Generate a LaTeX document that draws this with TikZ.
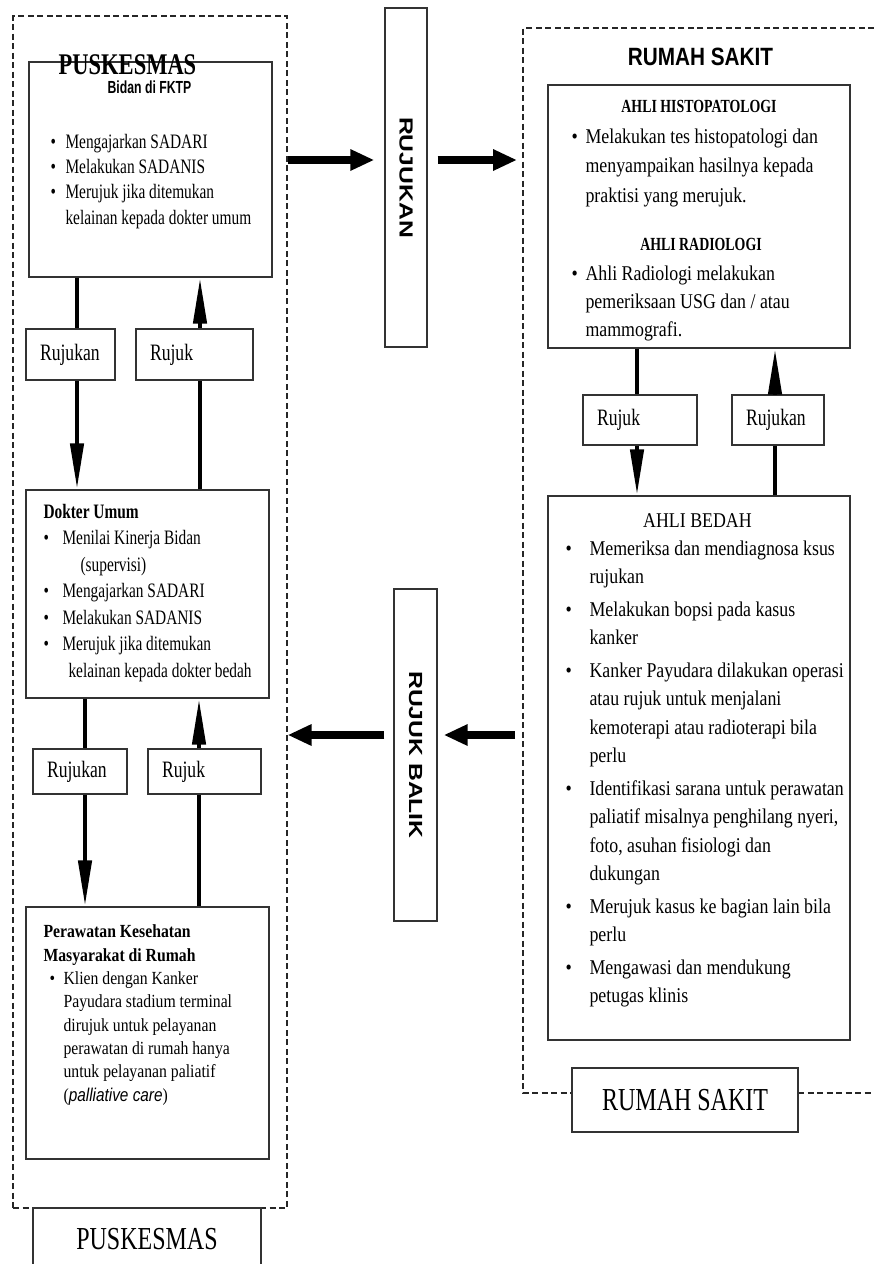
\documentclass[tikz,border=0pt]{standalone}
\usepackage{fontspec}
\setmainfont{Liberation Serif}[FakeStretch=0.75]
\newfontfamily\rserif{Liberation Serif}[FakeStretch=0.85]
\newfontfamily\condsans{Liberation Sans}[FakeStretch=0.7]
\newfontfamily\narrowsans{Liberation Sans}[FakeStretch=0.83]
\newfontfamily\widesans{Liberation Sans}[FakeStretch=1.3]
\usetikzlibrary{arrows.meta,calc}

\newcommand{\bul}[1]{\makebox[#1][l]{\textbullet}}

\tikzset{
  box/.style={draw=black!80, line width=1.4pt, inner sep=0pt},
  areabox/.style={draw=black!85, line width=1.2pt, dash pattern=on 6pt off 3.5pt},
  smallbox/.style={box, inner xsep=14pt, align=left, font=\fontsize{23.5}{28}\selectfont},
  labelbox/.style={box, fill=white, font=\fontsize{32}{38}\selectfont},
  flow/.style={line width=4.5pt},
  flowhead/.style={flow, -{Triangle[length=46pt,width=13pt]}},
  bigarrow/.style={line width=8pt, -{Triangle[length=24pt,width=20pt]}},
}

\begin{document}
\begin{tikzpicture}[x=1pt,y=-1pt]
\useasboundingbox (0,0) rectangle (874,1264);

% puskesmas side (text blocks sit on the baseline of their last line)
\node[areabox, minimum width=274, minimum height=1192] (pkarea) at (150,612) {};

\node[box, minimum width=243, minimum height=215] (bidan) at (150.5,169.5) {};
\node[anchor=base, text depth=0pt, font=\bfseries\fontsize{30}{36}\selectfont] (pktitle) at (127.5,74) {PUSKESMAS};
\node[anchor=base, text height=12.5pt, font=\condsans\bfseries\fontsize{17.5}{22}\selectfont] (bidantitle) at (149.5,93) {Bidan di FKTP};
\node[anchor=base west, align=left, font=\fontsize{20.5}{25.3}\selectfont] (bidantext) at (47,224)
  {\bul{15pt}Mengajarkan SADARI\\ \bul{15pt}Melakukan SADANIS\\
   \bul{15pt}Merujuk jika ditemukan\\ \hspace*{15pt}kelainan kepada dokter umum};

\node[smallbox, text width=61pt, minimum height=51] (rujukanA) at (70.5,354.5) {Rujukan};
\node[smallbox, text width=89pt, minimum height=51] (rujukA) at (194.5,354.5) {Rujuk};

\node[box, minimum width=243, minimum height=208] (dokter) at (147.5,594) {};
\node[anchor=base west, align=left, font=\fontsize{20.5}{26.5}\selectfont] (doktertext) at (40,677)
  {\textbf{Dokter Umum}\\ \bul{19pt}Menilai Kinerja Bidan\\ \hspace*{37pt}(supervisi)\\
   \bul{19pt}Mengajarkan SADARI\\ \bul{19pt}Melakukan SADANIS\\
   \bul{19pt}Merujuk jika ditemukan\\ \hspace*{25pt}kelainan kepada dokter bedah};

\node[smallbox, text width=66pt, minimum height=45] (rujukanB) at (80,771.5) {Rujukan};
\node[smallbox, text width=85pt, minimum height=45] (rujukB) at (204.5,771.5) {Rujuk};

\node[box, minimum width=243, minimum height=252] (perawatan) at (147.5,1033) {};
\node[anchor=base west, align=left, font=\rserif\fontsize{18.5}{23.3}\selectfont] (perawatantext) at (40,1101)
  {\textbf{Perawatan Kesehatan}\\ \textbf{Masyarakat di Rumah}\\
   \hspace*{6pt}\bul{14pt}Klien dengan Kanker\\ \hspace*{20pt}Payudara stadium terminal\\
   \hspace*{20pt}dirujuk untuk pelayanan\\ \hspace*{20pt}perawatan di rumah hanya\\
   \hspace*{20pt}untuk pelayanan paliatif\\ \hspace*{20pt}({\narrowsans\itshape palliative care})};

\node[labelbox, minimum width=228, minimum height=62] (pklabel) at (147,1239) {PUSKESMAS};

\coordinate (pkdown) at (77,0);
\coordinate (pkup) at (200,0);
\draw[flow] (pkdown |- bidan.south) -- (pkdown |- rujukanA.north);
\draw[flowhead] (pkdown |- rujukanA.south) -- (pkdown |- dokter.north);
\draw[flow] (pkup |- dokter.north) -- (pkup |- rujukA.south);
\draw[flowhead] (pkup |- rujukA.north) -- (pkup |- bidan.south);

\coordinate (pkdownB) at (85,0);
\coordinate (pkupB) at (199,0);
\draw[flow] (pkdownB |- dokter.south) -- (pkdownB |- rujukanB.north);
\draw[flowhead] (pkdownB |- rujukanB.south) -- (pkdownB |- perawatan.north);
\draw[flow] (pkupB |- perawatan.north) -- (pkupB |- rujukB.south);
\draw[flowhead] (pkupB |- rujukB.north) -- (pkupB |- dokter.south);

% rumah sakit side
\draw[areabox] (874,28) -- (523,28) coordinate (rsedge) -- (523,1093) -- (874,1093);
\node[anchor=base, font=\narrowsans\bfseries\fontsize{25}{30}\selectfont] (rstitle) at (700.5,65) {RUMAH SAKIT};

\node[box, minimum width=302, minimum height=263] (histo) at (699,216.5) {};
\node[anchor=base, font=\bfseries\fontsize{18.5}{23}\selectfont] (histotitle) at (699,112) {AHLI HISTOPATOLOGI};
\node[anchor=base west, align=left, font=\rserif\fontsize{21}{29.5}\selectfont] (histotext) at (568,202)
  {\bul{14pt}Melakukan tes histopatologi dan\\ \hspace*{14pt}menyampaikan hasilnya kepada\\
   \hspace*{14pt}praktisi yang merujuk.};
\node[anchor=base, font=\bfseries\fontsize{18.5}{23}\selectfont] (radiotitle) at (701,250) {AHLI RADIOLOGI};
\node[anchor=base west, align=left, font=\rserif\fontsize{21}{28}\selectfont] (radiotext) at (568,336)
  {\bul{14pt}Ahli Radiologi melakukan\\ \hspace*{14pt}pemeriksaan USG dan / atau\\
   \hspace*{14pt}mammografi.};

\node[smallbox, text width=86pt, minimum height=50] (rujukC) at (640,420) {Rujuk};
\node[smallbox, text width=64pt, minimum height=50] (rujukanC) at (778,420) {Rujukan};

\node[box, minimum width=302, minimum height=544] (bedah) at (699,768) {};
\node[anchor=base, font=\rserif\fontsize{21}{25}\selectfont] (bedahtitle) at (697.5,527) {AHLI BEDAH};
\node[anchor=base west, align=left, font=\rserif\fontsize{21}{28.5}\selectfont] (bedahtext) at (562,1002.5)
  {\bul{24pt}Memeriksa dan mendiagnosa ksus\\ \hspace*{24pt}rujukan\\[4pt]
   \bul{24pt}Melakukan bopsi pada kasus\\ \hspace*{24pt}kanker\\[4pt]
   \bul{24pt}Kanker Payudara dilakukan operasi\\ \hspace*{24pt}atau rujuk untuk menjalani\\
   \hspace*{24pt}kemoterapi atau radioterapi bila\\ \hspace*{24pt}perlu\\[4pt]
   \bul{24pt}Identifikasi sarana untuk perawatan\\ \hspace*{24pt}paliatif misalnya penghilang nyeri,\\
   \hspace*{24pt}foto, asuhan fisiologi dan\\ \hspace*{24pt}dukungan\\[4pt]
   \bul{24pt}Merujuk kasus ke bagian lain bila\\ \hspace*{24pt}perlu\\[4pt]
   \bul{24pt}Mengawasi dan mendukung\\ \hspace*{24pt}petugas klinis};

\node[labelbox, minimum width=226, minimum height=64] (rslabel) at (685,1100) {RUMAH SAKIT};

\coordinate (rsdown) at (637,0);
\coordinate (rsup) at (775,0);
\draw[flow] (rsdown |- histo.south) -- (rsdown |- rujukC.north);
\draw[flowhead] (rsdown |- rujukC.south) -- (rsdown |- bedah.north);
\draw[flow] (rsup |- bedah.north) -- (rsup |- rujukanC.south);
\draw[flowhead] (rsup |- rujukanC.north) -- (rsup |- histo.south);

% middle bars
\node[box, minimum width=42, minimum height=339] (rujukanbar) at (406,177.5) {};
\node[rotate=-90, font=\widesans\bfseries\fontsize{19}{23}\selectfont] (rujukanword) at (rujukanbar.center) {RUJUKAN};
\node[box, minimum width=43, minimum height=332] (balikbar) at (415.5,755) {};
\node[rotate=-90, font=\widesans\bfseries\fontsize{19}{23}\selectfont] (balikword) at (balikbar.center) {RUJUK BALIK};

\coordinate (rujukanrow) at (0,160);
\coordinate (balikrow) at (0,735);
\draw[bigarrow, shorten >=10pt] (pkarea.east |- rujukanrow) -- (rujukanbar.west |- rujukanrow);
\draw[bigarrow, shorten <=10pt, shorten >=6pt] (rujukanbar.east |- rujukanrow) -- (rsedge |- rujukanrow);
\draw[bigarrow, shorten <=8pt, shorten >=6pt] (rsedge |- balikrow) -- (balikbar.east |- balikrow);
\draw[bigarrow, shorten <=9pt] (balikbar.west |- balikrow) -- (pkarea.east |- balikrow);

\end{tikzpicture}
\end{document}
